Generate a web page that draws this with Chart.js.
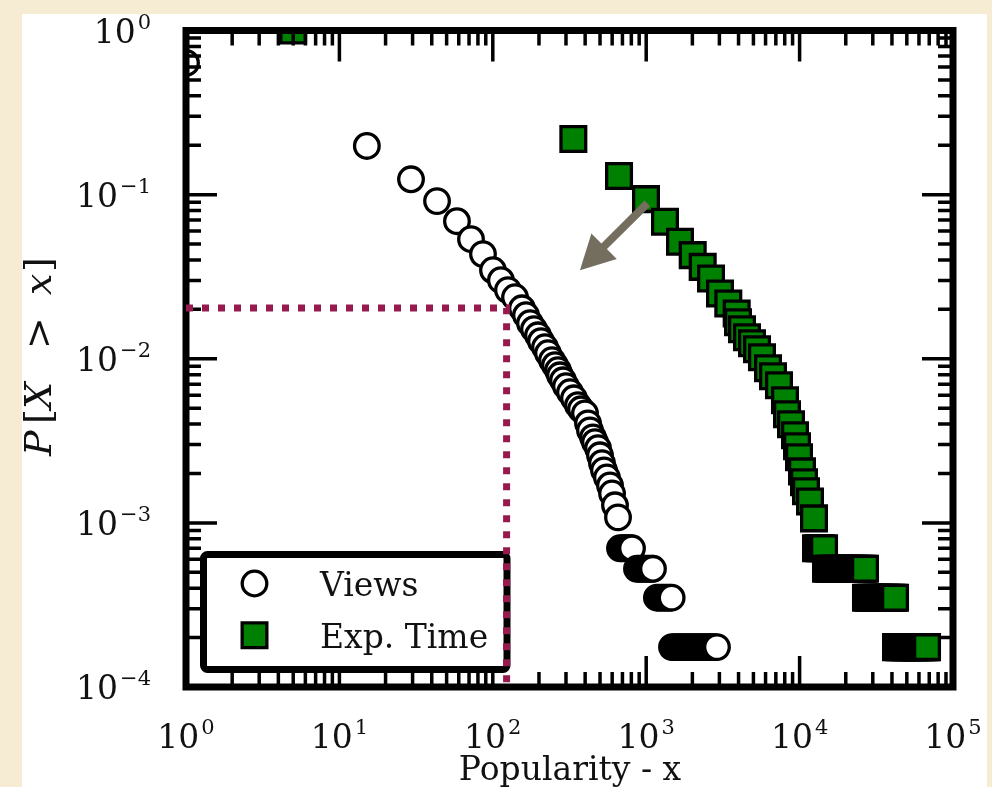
<!DOCTYPE html>
<html><head><meta charset="utf-8">
<script src="https://cdn.jsdelivr.net/npm/chart.js@4.4.1/dist/chart.umd.min.js"></script>
<style>html,body{margin:0;padding:0;background:#f5ecd3;}canvas{display:block;}</style>
</head><body>
<canvas id="c" width="992" height="787"></canvas>
<script>
// ---- data ----
const viewsX = [1, 15.1, 29.3, 43.3, 58.4, 72.1, 86.3, 100.3, 113, 125.6, 139.6, 155, 164.6, 174.8, 185.6, 197, 206.2, 219, 229, 243, 254.3, 266, 274.2, 287, 300.1, 318.6, 338.3, 359, 375.8, 399, 417.5, 430.2, 450, 463.7, 485, 499.7, 515, 530.8, 555, 580.8, 599, 626, 655,
  675, 701, 728, 756, 785, 808,
  871, 904, 939, 975, 1012, 1051, 1090, 1107,
  1175, 1220, 1267, 1315, 1365, 1417, 1465,
  1473, 1529, 1588, 1649, 1712, 1777, 1845, 1915, 1989, 2065, 2143, 2225, 2310, 2398, 2490, 2585, 2684, 2786, 2893];
const viewsY = [0.634, 0.198, 0.124, 0.0913, 0.0689, 0.0535, 0.0434, 0.0346, 0.0301, 0.0262, 0.0237, 0.0203, 0.01842, 0.01646, 0.01513, 0.0139, 0.01279, 0.01175, 0.0108, 0.00979, 0.00913, 0.00851, 0.00793, 0.00739, 0.0068, 0.00625, 0.00574, 0.00521, 0.00492, 0.00465, 0.00404, 0.00366, 0.00332, 0.0031, 0.00285, 0.00258, 0.00231, 0.00209, 0.00189, 0.00169, 0.00151, 0.00128, 0.00108,
  7.0e-4, 7.0e-4, 7.0e-4, 7.0e-4, 7.0e-4, 7.0e-4,
  5.25e-4, 5.25e-4, 5.25e-4, 5.25e-4, 5.25e-4, 5.25e-4, 5.25e-4, 5.25e-4,
  3.5e-4, 3.5e-4, 3.5e-4, 3.5e-4, 3.5e-4, 3.5e-4, 3.5e-4,
  1.75e-4, 1.75e-4, 1.75e-4, 1.75e-4, 1.75e-4, 1.75e-4, 1.75e-4, 1.75e-4, 1.75e-4, 1.75e-4, 1.75e-4, 1.75e-4, 1.75e-4, 1.75e-4, 1.75e-4, 1.75e-4, 1.75e-4, 1.75e-4, 1.75e-4];
const expX = [5, 335, 665, 997, 1326, 1661, 2010, 2335, 2645, 3028, 3429, 3890, 3967, 4212, 4540, 4894, 5277, 5686, 6223, 6708, 7339, 8031, 8278, 8790, 9333, 9618, 9911, 10366, 10683, 11008, 11690, 12414,
  12790, 13280, 13790, 14430,
  14863, 15431, 16020, 16632, 17268, 17927, 18612, 19323, 20061, 20828, 21623, 22449, 23307, 24197, 25122, 26081, 26690,
  27090, 28125, 29199, 30315, 31473, 32675, 33923, 35219, 36565, 37961, 39412, 40917, 41880,
  42500, 44124, 45809, 47559, 49376, 51263, 53221, 55254, 57365, 59556, 61831, 64193, 66645, 67700];
const expY = [1.0, 0.218, 0.1297, 0.0939, 0.0683, 0.0516, 0.0428, 0.0363, 0.0308, 0.0250, 0.0217, 0.01887, 0.0167, 0.01513, 0.01352, 0.01243, 0.01143, 0.01021, 0.00875, 0.00782, 0.0069, 0.00558, 0.00459, 0.00399, 0.00342, 0.00293, 0.00251, 0.00206, 0.00177, 0.00156, 0.00135, 0.001065,
  7.0e-4, 7.0e-4, 7.0e-4, 7.0e-4,
  5.25e-4, 5.25e-4, 5.25e-4, 5.25e-4, 5.25e-4, 5.25e-4, 5.25e-4, 5.25e-4, 5.25e-4, 5.25e-4, 5.25e-4, 5.25e-4, 5.25e-4, 5.25e-4, 5.25e-4, 5.25e-4, 5.25e-4,
  3.5e-4, 3.5e-4, 3.5e-4, 3.5e-4, 3.5e-4, 3.5e-4, 3.5e-4, 3.5e-4, 3.5e-4, 3.5e-4, 3.5e-4, 3.5e-4, 3.5e-4,
  1.75e-4, 1.75e-4, 1.75e-4, 1.75e-4, 1.75e-4, 1.75e-4, 1.75e-4, 1.75e-4, 1.75e-4, 1.75e-4, 1.75e-4, 1.75e-4, 1.75e-4, 1.75e-4];
const cutX = 123;          // dotted guide: x
const cutY = 0.0204;       // dotted guide: P
const arrowFrom = [1017, 0.0884];
const arrowTo = [370, 0.0346];
const seriesLabels = ['Views', 'Exp. Time'];
const xTickValues = [1, 10, 100, 1000, 10000, 100000];
const xTickExp = ['0', '1', '2', '3', '4', '5'];
const yTickValues = [1, 0.1, 0.01, 0.001, 0.0001];
const yTickExp = ['0', '\u22121', '\u22122', '\u22123', '\u22124'];
const xTitle = 'Popularity - x';

// ---- drawing ----
const SERIF = '"DejaVu Serif", serif';
const toPts = (xs, ys) => xs.map((x, i) => ({x: x, y: ys[i]}));

function drawPow(ctx, x, baseline, exp, align) {
  ctx.font = '33px ' + SERIF;
  const wb = ctx.measureText('10').width;
  ctx.font = '21px ' + SERIF;
  const we = ctx.measureText(exp).width;
  const gap = 2;
  const total = wb + gap + we;
  const left = align === 'center' ? x - total / 2 : x - total;
  ctx.font = '33px ' + SERIF;
  ctx.fillText('10', left, baseline);
  ctx.font = '21px ' + SERIF;
  ctx.fillText(exp, left + wb + gap, baseline - 14);
}

function drawAxes(chart) {
  const ctx = chart.ctx, a = chart.chartArea, xs = chart.scales.x, ys = chart.scales.y;
  ctx.save();
  ctx.beginPath(); ctx.rect(22, 14, 965, 773); ctx.clip();
  ctx.strokeStyle = '#000';
  ctx.lineWidth = 3.5;
  ctx.lineCap = 'butt';
  for (let k = 0; k < 5; k++) {
    for (let m = 1; m <= 9; m++) {
      const px = xs.getPixelForValue(m * Math.pow(10, k));
      const len = m === 1 ? 31 : 15;
      ctx.beginPath();
      ctx.moveTo(px, a.bottom); ctx.lineTo(px, a.bottom - len);
      ctx.moveTo(px, a.top); ctx.lineTo(px, a.top + len);
      ctx.stroke();
    }
  }
  for (let k = -4; k < 0; k++) {
    for (let m = 1; m <= 9; m++) {
      const py = ys.getPixelForValue(m * Math.pow(10, k));
      const len = m === 1 ? 31 : 15;
      ctx.beginPath();
      ctx.moveTo(a.left, py); ctx.lineTo(a.left + len, py);
      ctx.moveTo(a.right, py); ctx.lineTo(a.right - len, py);
      ctx.stroke();
    }
  }
  ctx.lineWidth = 7;
  ctx.strokeRect(a.left, a.top, a.right - a.left, a.bottom - a.top);
  ctx.fillStyle = '#111';
  ctx.textAlign = 'left';
  ctx.textBaseline = 'alphabetic';
  xTickValues.forEach((v, i) => drawPow(ctx, xs.getPixelForValue(v), 748, xTickExp[i], 'center'));
  yTickValues.forEach((v, i) => drawPow(ctx, 151, ys.getPixelForValue(v) + 12, yTickExp[i], 'right'));
  ctx.font = '33px ' + SERIF;
  ctx.textAlign = 'center';
  ctx.fillText(xTitle, 570, 780);
  ctx.textAlign = 'left';
  const parts = [['P', 'italic ', 456], ['[', '', 424], ['X', 'italic ', 409], ['>', '', 349], ['x', 'italic ', 295], [']', '', 272]];
  parts.forEach(p => {
    ctx.save();
    ctx.translate(51, p[2]);
    ctx.rotate(-Math.PI / 2);
    ctx.font = p[1] + '38px ' + SERIF;
    ctx.fillText(p[0], 0, 0);
    ctx.restore();
  });
  ctx.restore();
}

function drawLegend(chart) {
  const ctx = chart.ctx;
  ctx.save();
  ctx.lineWidth = 7;
  ctx.strokeStyle = '#000';
  ctx.fillStyle = '#fff';
  ctx.beginPath();
  ctx.roundRect(203.5, 554.5, 303.5, 115, 4);
  ctx.fill(); ctx.stroke();
  ctx.lineWidth = 3.3;
  ctx.beginPath(); ctx.arc(254.5, 583.5, 12.3, 0, Math.PI * 2);
  ctx.fillStyle = '#fff'; ctx.fill(); ctx.stroke();
  ctx.beginPath(); ctx.rect(254.5 - 12.35, 635.3 - 12.35, 24.7, 24.7);
  ctx.fillStyle = '#008000'; ctx.fill(); ctx.stroke();
  ctx.fillStyle = '#111';
  ctx.font = '33px ' + SERIF;
  ctx.textAlign = 'left';
  ctx.fillText(chart.data.datasets[0].label, 320, 596);
  ctx.fillText(chart.data.datasets[1].label, 320, 648);
  ctx.restore();
}

function drawArrow(chart) {
  const ctx = chart.ctx, xs = chart.scales.x, ys = chart.scales.y;
  const x0 = xs.getPixelForValue(arrowFrom[0]), y0 = ys.getPixelForValue(arrowFrom[1]);
  const x1 = xs.getPixelForValue(arrowTo[0]), y1 = ys.getPixelForValue(arrowTo[1]);
  const dx = x1 - x0, dy = y1 - y0, L = Math.hypot(dx, dy);
  const ux = dx / L, uy = dy / L, nx = -uy, ny = ux;
  const hl = 34, hw = 18;
  const bx = x1 - ux * hl, by = y1 - uy * hl;
  ctx.save();
  ctx.strokeStyle = ctx.fillStyle = '#736e5e';
  ctx.lineWidth = 8; ctx.lineCap = 'butt';
  ctx.beginPath(); ctx.moveTo(x0, y0); ctx.lineTo(bx + ux * 2, by + uy * 2); ctx.stroke();
  ctx.beginPath();
  ctx.moveTo(x1, y1);
  ctx.lineTo(bx + nx * hw, by + ny * hw);
  ctx.lineTo(bx - nx * hw, by - ny * hw);
  ctx.closePath(); ctx.fill();
  ctx.restore();
}

const decor = {
  id: 'decor',
  beforeDraw(chart) {
    const ctx = chart.ctx;
    ctx.save();
    ctx.fillStyle = '#f5ecd3'; ctx.fillRect(0, 0, chart.width, chart.height);
    ctx.fillStyle = '#ffffff'; ctx.fillRect(22, 14, 965, 773);
    ctx.restore();
  },
  afterDatasetDraw(chart, args) {
    if (args.index === 1) { drawAxes(chart); drawLegend(chart); }
  },
  afterDatasetsDraw(chart) { drawArrow(chart); }
};

new Chart(document.getElementById('c'), {
  type: 'scatter',
  data: {
    datasets: [
      {
        label: seriesLabels[0], data: toPts(viewsX, viewsY), order: 3, clip: 0,
        pointStyle: 'circle', pointRadius: 12.3, pointHoverRadius: 12.3,
        pointBackgroundColor: '#ffffff', pointBorderColor: '#000000', pointBorderWidth: 3.3, pointHoverBorderWidth: 3.3,
        backgroundColor: '#ffffff', borderColor: '#000000'
      },
      {
        label: seriesLabels[1], data: toPts(expX, expY), order: 2, clip: 0,
        pointStyle: 'rect', pointRadius: 17.5, pointHoverRadius: 17.5,
        pointBackgroundColor: '#008000', pointBorderColor: '#000000', pointBorderWidth: 3.3, pointHoverBorderWidth: 3.3,
        backgroundColor: '#008000', borderColor: '#000000'
      },
      {
        type: 'line', label: 'cut', data: [{x: 1, y: cutY}, {x: cutX, y: cutY}, {x: cutX, y: 1e-4}],
        order: 1, clip: 0, showLine: true, fill: false, tension: 0,
        borderColor: '#971a4f', borderWidth: 7, borderDash: [7, 9], borderCapStyle: 'butt',
        pointRadius: 0, pointHoverRadius: 0
      }
    ]
  },
  options: {
    responsive: false,
    animation: false,
    events: [],
    layout: {padding: {left: 186, right: 39, top: 30.5, bottom: 100}},
    plugins: {legend: {display: false}, tooltip: {enabled: false}, title: {display: false}},
    scales: {
      x: {type: 'logarithmic', min: 1, max: 100000, display: false},
      y: {type: 'logarithmic', min: 0.0001, max: 1, display: false}
    }
  },
  plugins: [decor]
});
</script>
</body></html>
